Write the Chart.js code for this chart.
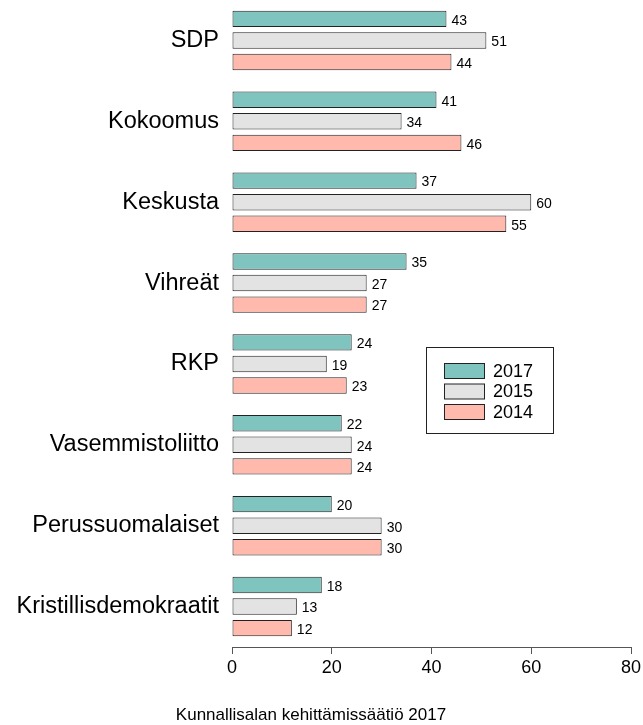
<!DOCTYPE html>
<html><head><meta charset="utf-8">
<script src="https://cdn.jsdelivr.net/npm/chart.js@4"></script>
<style>html,body{margin:0;padding:0;background:#fff}#wrap{width:643px;height:725px}</style>
</head><body><div id="wrap"><canvas id="c" width="643" height="725"></canvas></div>
<script>
const categories = ["SDP","Kokoomus","Keskusta","Vihreät","RKP","Vasemmistoliitto","Perussuomalaiset","Kristillisdemokraatit"];
const seriesNames = ["2017","2015","2014"];
const values2017 = [43,41,37,35,24,22,20,18];
const values2015 = [51,34,60,27,19,24,30,13];
const values2014 = [44,46,55,27,23,24,30,12];
const xTicks = [0,20,40,60,80];
const sourceText = "Kunnallisalan kehittämissäätiö 2017";

const colors = ["#80C4BF","#E3E3E3","#FFB9AD"];
const FONT = "'Liberation Sans', Arial, sans-serif";

const valueLabels = {
  id:'valueLabels',
  afterDatasetsDraw(chart){
    const ctx = chart.ctx;
    ctx.save();
    ctx.font = "14px " + FONT;
    ctx.fillStyle = "#000";
    ctx.textBaseline = "middle";
    ctx.textAlign = "left";
    chart.data.datasets.forEach((ds,i)=>{
      chart.getDatasetMeta(i).data.forEach((bar,j)=>{
        ctx.fillText(String(ds.data[j]), bar.x + 5, bar.y + 2);
      });
    });
    ctx.restore();
  }
};

const customLegend = {
  id:'customLegend',
  afterDraw(chart){
    const ctx = chart.ctx;
    ctx.save();
    ctx.strokeStyle = "#222";
    ctx.lineWidth = 1;
    ctx.strokeRect(426.5, 347.5, 127, 86);
    ctx.font = "18px " + FONT;
    ctx.textBaseline = "middle";
    ctx.textAlign = "left";
    chart.data.datasets.forEach((ds,i)=>{
      const y = 363 + i*20.5;
      ctx.fillStyle = ds.backgroundColor;
      ctx.fillRect(444.5, y+0.5, 40, 15);
      ctx.strokeStyle = "#222";
      ctx.strokeRect(444.5, y+0.5, 40, 15);
      ctx.fillStyle = "#000";
      ctx.fillText(ds.label, 493, y + 9);
    });
    ctx.fillStyle = "#000";
    ctx.font = "17px " + FONT;
    ctx.textAlign = "center";
    ctx.fillText(sourceText, 311, 715);
    ctx.restore();
  }
};

new Chart(document.getElementById('c'), {
  type:'bar',
  data:{
    labels: categories,
    datasets:[
      {label:seriesNames[0], data:values2017, backgroundColor:colors[0]},
      {label:seriesNames[1], data:values2015, backgroundColor:colors[1]},
      {label:seriesNames[2], data:values2014, backgroundColor:colors[2]}
    ].map(d=>Object.assign(d,{borderColor:"#222",borderWidth:1,borderSkipped:false,categoryPercentage:0.80,barPercentage:0.76}))
  },
  options:{
    indexAxis:'y',
    responsive:false,
    animation:false,
    layout:{padding:{left:0,right:12,top:0,bottom:0}},
    plugins:{legend:{display:false},tooltip:{enabled:false}},
    scales:{
      y:{
        grid:{display:false},
        border:{display:false},
        ticks:{font:{family:FONT,size:23.5},color:"#000",padding:5},
        afterFit(s){ s.width = 232; s.paddingTop = 0; s.paddingBottom = 0; }
      },
      x:{
        min:0,max:80,
        afterBuildTicks(s){ s.ticks = xTicks.map(v=>({value:v})); },
        grid:{display:true,drawOnChartArea:false,drawTicks:true,tickLength:7,color:"#555"},
        border:{display:true,color:"#555",width:1},
        ticks:{font:{family:FONT,size:18},color:"#000",padding:3},
        afterFit(s){ s.height = 78; s.paddingLeft = 0; s.paddingRight = 0; }
      }
    }
  },
  plugins:[valueLabels,customLegend]
});
</script></body></html>
